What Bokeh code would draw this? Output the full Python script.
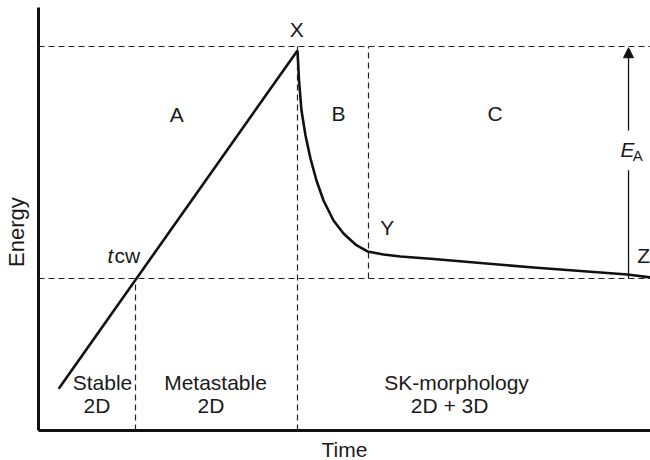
import math

from bokeh.core.properties import value
from bokeh.embed import file_html
from bokeh.models import Arrow, NormalHead, Range1d
from bokeh.plotting import figure
from bokeh.resources import INLINE

# Energy (0-100) against time (0-100), schematic units
rise_time = [3.3, 42.32]
rise_energy = [9.9, 89.83]

decay_time = [42.32, 42.57, 42.97, 43.63, 44.44, 45.42, 46.57, 48.20, 49.84,
              51.80, 53.76, 56.37, 59.15, 64.54, 72.22, 80.88, 88.56, 96.24, 100.0]
decay_energy = [89.83, 82.74, 75.65, 69.74, 64.30, 59.10, 54.37, 49.65, 46.57,
                43.97, 42.32, 41.61, 41.13, 40.54, 39.60, 38.53, 37.71, 36.88, 36.17]

# characteristic levels and instants
peak_level = 90.78
stable_level = 35.93
t_cw = 15.85
t_peak = 42.32
t_y = 53.92
t_end = 100.0
t_ea = 96.41

# region letters
region_names = ["A", "B", "C"]
region_time = [22.6, 49.0, 74.6]
region_energy = [72.8, 73.1, 73.0]

point_names = ["X", "Y", "Z"]
point_time = [42.2, 57.0, 98.9]
point_energy = [92.9, 46.1, 39.5]

phase_top = ["Stable", "Metastable", "SK-morphology"]
phase_top_time = [10.46, 28.92, 68.30]
phase_bottom = ["2D", "2D", "2D + 3D"]
phase_bottom_time = [9.56, 28.19, 67.16]

FONT = value("Liberation Sans")
FS = "21px"

p = figure(width=650, height=460, output_backend="svg", toolbar_location=None,
           x_axis_type=None, y_axis_type=None, min_border=0,
           x_range=Range1d(-6.21, 100.0), y_range=Range1d(-7.09, 101.65),
           outline_line_color=None, background_fill_color="white",
           border_fill_color="white")
p.grid.visible = False

# axes drawn as plain lines
p.line([0, 0], [0, 100.0], line_color="#111111", line_width=3)
p.line([0, 100.0], [0, 0], line_color="#111111", line_width=3)

dash = dict(line_color="#222222", line_width=1.2, line_dash="6 4")
p.line([0, t_end], [peak_level, peak_level], **dash)
p.line([0, t_end], [stable_level, stable_level], **dash)
p.line([t_cw, t_cw], [0, stable_level], **dash)
p.line([t_peak, t_peak], [0, peak_level], **dash)
p.line([t_y, t_y], [stable_level, peak_level], **dash)

# energy curve
p.line(rise_time, rise_energy, line_color="#111111", line_width=2.6)
p.line(decay_time, decay_energy, line_color="#111111", line_width=2.6,
       line_join="round")

# activation energy arrow with a gap for its label
p.line([t_ea, t_ea], [stable_level, 61.5], line_color="#111111", line_width=1.3)
p.add_layout(Arrow(x_start=t_ea, y_start=70.9, x_end=t_ea, y_end=peak_level - 0.3,
                   line_color="#111111", line_width=1.3,
                   end=NormalHead(size=10, fill_color="#111111",
                                  line_color="#111111")))

txt = dict(text_font=FONT, text_font_size=FS, text_color="#1a1a1a",
           text_baseline="alphabetic", y_offset=-8)
p.text(region_time, region_energy, text=region_names, text_align="center", **txt)
p.text(point_time, point_energy, text=point_names, text_align="center", **txt)

p.text([95.1], [64.5], text=["E"], text_align="left",
       text_font_style="italic", **txt)
p.text([97.1], [63.1], text=["A"], text_align="left", text_font=FONT,
       text_font_size="15px", text_color="#1a1a1a", text_baseline="alphabetic",
       y_offset=-8)

p.text([11.27], [39.5], text=["t"], text_align="left",
       text_font_style="italic", **txt)
p.text([12.4], [39.5], text=["cw"], text_align="left", **txt)

p.text(phase_top_time, [9.46] * 3, text=phase_top, text_align="center", **txt)
p.text(phase_bottom_time, [4.02] * 3, text=phase_bottom, text_align="center", **txt)

p.text([50.0], [-6.38], text=["Time"], text_align="center", **txt)
p.text([-3.59], [46.9], text=["Energy"], angle=math.pi / 2, text_align="center",
       text_baseline="middle", text_font=FONT, text_font_size="22px",
       text_color="#1a1a1a")

open("out.html", "w").write(file_html(p, INLINE))
